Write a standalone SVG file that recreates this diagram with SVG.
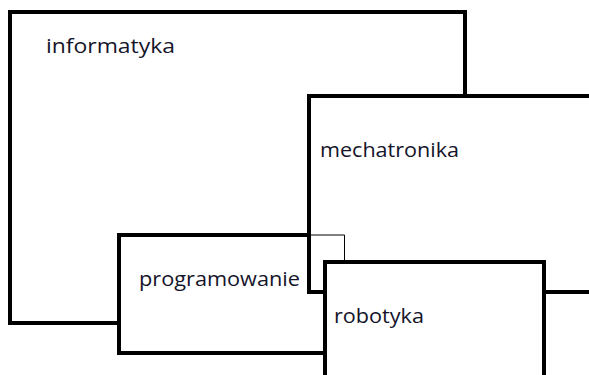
<svg xmlns="http://www.w3.org/2000/svg" width="589" height="375" viewBox="0 0 589 375">
  <style>
    .edge { fill: none; stroke: #000; stroke-width: 4; stroke-linecap: square; stroke-linejoin: miter; }
    .thin { fill: none; stroke: #000; stroke-width: 1; }
    .label { font-family: "Open Sans", "Noto Sans", sans-serif; font-size: 20px; fill: #14142a; }
  </style>
  <rect width="589" height="375" fill="#fff"/>
  <g id="connectors">
    <!-- thin outline where programowanie passes behind mechatronika -->
    <polyline class="thin" points="309,235 344.5,235 344.5,262"/>
  </g>
  <g id="informatyka">
    <polyline class="edge" points="119,323 10,323 10,12 465,12 465,96"/>
    <text class="label" x="46" y="53" textLength="129" lengthAdjust="spacingAndGlyphs">informatyka</text>
  </g>
  <g id="mechatronika">
    <polyline class="edge" points="587,96 309,96 309,292 325,292"/>
    <line class="edge" x1="544" y1="292" x2="587" y2="292"/>
    <text class="label" x="320" y="157" textLength="139" lengthAdjust="spacingAndGlyphs">mechatronika</text>
  </g>
  <g id="programowanie">
    <polyline class="edge" points="309,235 119,235 119,353 325,353"/>
    <text class="label" x="139" y="286" textLength="161" lengthAdjust="spacingAndGlyphs">programowanie</text>
  </g>
  <g id="robotyka">
    <polyline class="edge" points="325,377 325,262 544,262 544,377"/>
    <text class="label" x="334" y="323" textLength="90" lengthAdjust="spacingAndGlyphs">robotyka</text>
  </g>
</svg>
